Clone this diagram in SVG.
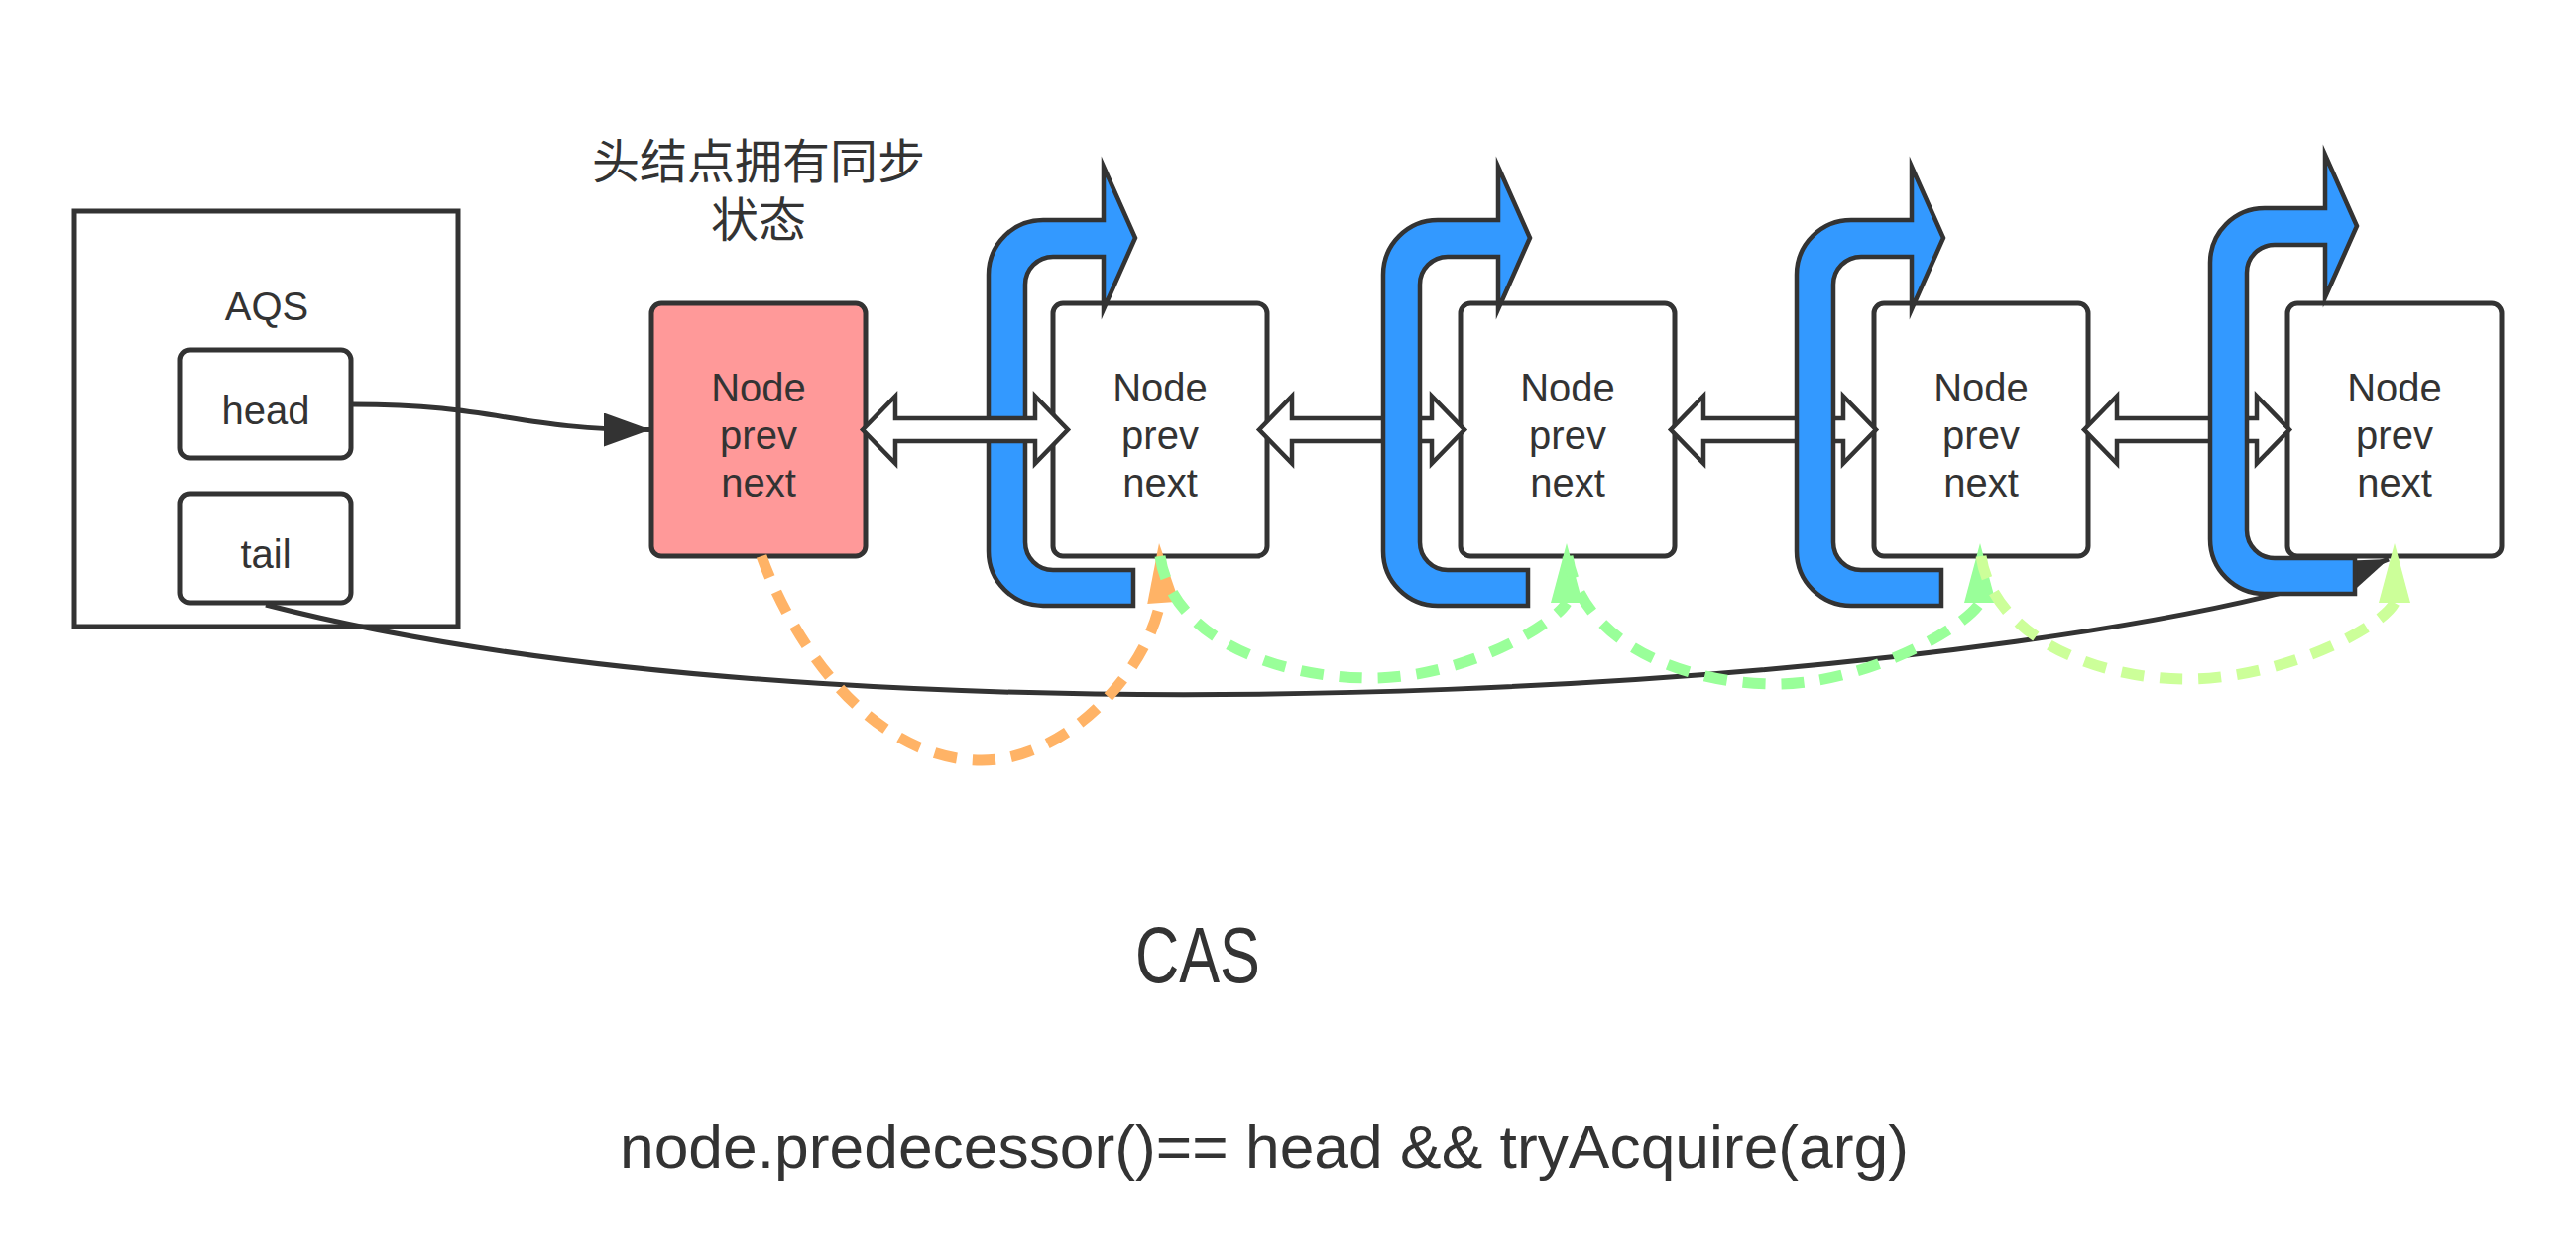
<svg xmlns="http://www.w3.org/2000/svg" width="2598" height="1269" viewBox="0 0 2598 1269">
<style>
.box{fill:#fff;stroke:#333;stroke-width:5}
.t{font-family:"Liberation Sans",Arial,sans-serif;font-size:40px;fill:#333;text-anchor:middle}
.cjk{font-family:"Noto Sans CJK SC",sans-serif;font-size:48px;fill:#333;text-anchor:middle}
.line{fill:none;stroke:#333;stroke-width:5}
.hollow{fill:#fff;stroke:#333;stroke-width:4.5;stroke-linejoin:miter}
.spin{fill:#3399ff;stroke:#333;stroke-width:4.5;stroke-linejoin:miter;stroke-miterlimit:10}
.dash{fill:none;stroke-width:11;stroke-dasharray:23 16}
</style>
<defs>
<marker id="ah" markerUnits="userSpaceOnUse" markerWidth="47" markerHeight="34" refX="47" refY="17" orient="auto" viewBox="0 0 47 34"><path d="M0,0 L47,17 L0,34 Z" fill="#333"/></marker>
<path id="spinShape" d="M1143,611 L1052,611 C1021.6,611 997,586.4 997,556 L997,277 C997,246.6 1021.6,222 1052,222 L1113,222 L1113,168 L1145,240 L1113,312 L1113,259 L1062,259 C1046.5,259 1034,271.5 1034,287 L1034,547 C1034,562.5 1046.5,575 1062,575 L1143,575 Z"/>
<polygon id="dbl" points="0,0 33,-34 33,-11.5 174,-11.5 174,-34 207,0 174,34 174,11.5 33,11.5 33,34"/>
<path id="dh" d="M0,0 L16,60 L-16,60 Z"/>
</defs>
<rect width="2598" height="1269" fill="#fff"/>

<g id="aqs">
<rect class="box" x="75" y="213" width="387" height="419"/>
<text class="t" x="269" y="323">AQS</text>
</g>
<g id="head">
<rect class="box" x="182" y="353" width="172" height="109" rx="10" stroke-width="4.5"/>
<text class="t" x="268" y="428">head</text>
</g>
<g id="tail">
<rect class="box" x="182" y="498" width="172" height="110" rx="10" stroke-width="4.5"/>
<text class="t" x="268" y="573">tail</text>
</g>
<g id="head-note">
<text class="cjk"><tspan x="765" y="180">头结点拥有同步</tspan><tspan x="765" y="239">状态</tspan></text>
</g>
<g id="node0">
<rect class="box" x="657" y="306" width="216" height="255" rx="10" style="fill:#ff9999"/>
<text class="t" x="765" y="405">Node</text>
<text class="t" x="765" y="453">prev</text>
<text class="t" x="765" y="501">next</text>
</g>
<g id="node1">
<rect class="box" x="1062" y="306" width="216" height="255" rx="10"/>
<text class="t" x="1170" y="405">Node</text>
<text class="t" x="1170" y="453">prev</text>
<text class="t" x="1170" y="501">next</text>
</g>
<g id="node2">
<rect class="box" x="1473" y="306" width="216" height="255" rx="10"/>
<text class="t" x="1581" y="405">Node</text>
<text class="t" x="1581" y="453">prev</text>
<text class="t" x="1581" y="501">next</text>
</g>
<g id="node3">
<rect class="box" x="1890" y="306" width="216" height="255" rx="10"/>
<text class="t" x="1998" y="405">Node</text>
<text class="t" x="1998" y="453">prev</text>
<text class="t" x="1998" y="501">next</text>
</g>
<g id="node4">
<rect class="box" x="2307" y="306" width="216" height="255" rx="10"/>
<text class="t" x="2415" y="405">Node</text>
<text class="t" x="2415" y="453">prev</text>
<text class="t" x="2415" y="501">next</text>
</g>

<g id="connectors">
<path class="line" d="M268,610 C900,773 2100,690 2409,564" marker-end="url(#ah)"/>
<path class="line" d="M356,408 C500,408 520,433.5 656,433.5" marker-end="url(#ah)"/>
<use href="#dbl" class="hollow" transform="translate(1270,433.5)"/>
<use href="#dbl" class="hollow" transform="translate(1685,433.5)"/>
<use href="#dbl" class="hollow" transform="translate(2102,433.5)"/>
<g id="spin-arrows">
<use href="#spinShape" class="spin"/>
<use href="#spinShape" class="spin" transform="translate(398,0)"/>
<use href="#spinShape" class="spin" transform="translate(815,0)"/>
<use href="#spinShape" class="spin" transform="translate(1232,-12)"/>
</g>
<use href="#dbl" class="hollow" transform="translate(870,433.5)"/>
<path class="dash" stroke="#ffb366" d="M768,561 C800,650 880,767 990,767 C1075,767 1155,680 1170,608"/>
<use href="#dh" fill="#ffb366" transform="translate(1169,548) rotate(-4)"/>
<path class="dash" stroke="#99ff99" d="M1170,561 C1182,645 1290,684 1383,684 C1475,684 1565,632 1580,608"/>
<use href="#dh" fill="#99ff99" x="1580" y="548"/>
<path class="dash" stroke="#99ff99" d="M1581,561 C1595,650 1700,690 1790,690 C1880,690 1980,635 1997,608"/>
<use href="#dh" fill="#99ff99" x="1997" y="548"/>
<path class="dash" stroke="#ccff99" d="M1998,561 C2010,640 2110,685 2205,685 C2300,685 2400,635 2415,608"/>
<use href="#dh" fill="#ccff99" x="2415" y="548"/>
</g>

<g id="labels">
<text x="1208" y="991" textLength="126" lengthAdjust="spacingAndGlyphs" style="font-family:'Liberation Sans',Arial,sans-serif;font-size:80px;fill:#333;text-anchor:middle">CAS</text>
<text x="1275" y="1178" textLength="1300" lengthAdjust="spacingAndGlyphs" style="font-family:'Liberation Sans',Arial,sans-serif;font-size:62px;fill:#333;text-anchor:middle">node.predecessor()== head &amp;&amp; tryAcquire(arg)</text>
</g>
</svg>
